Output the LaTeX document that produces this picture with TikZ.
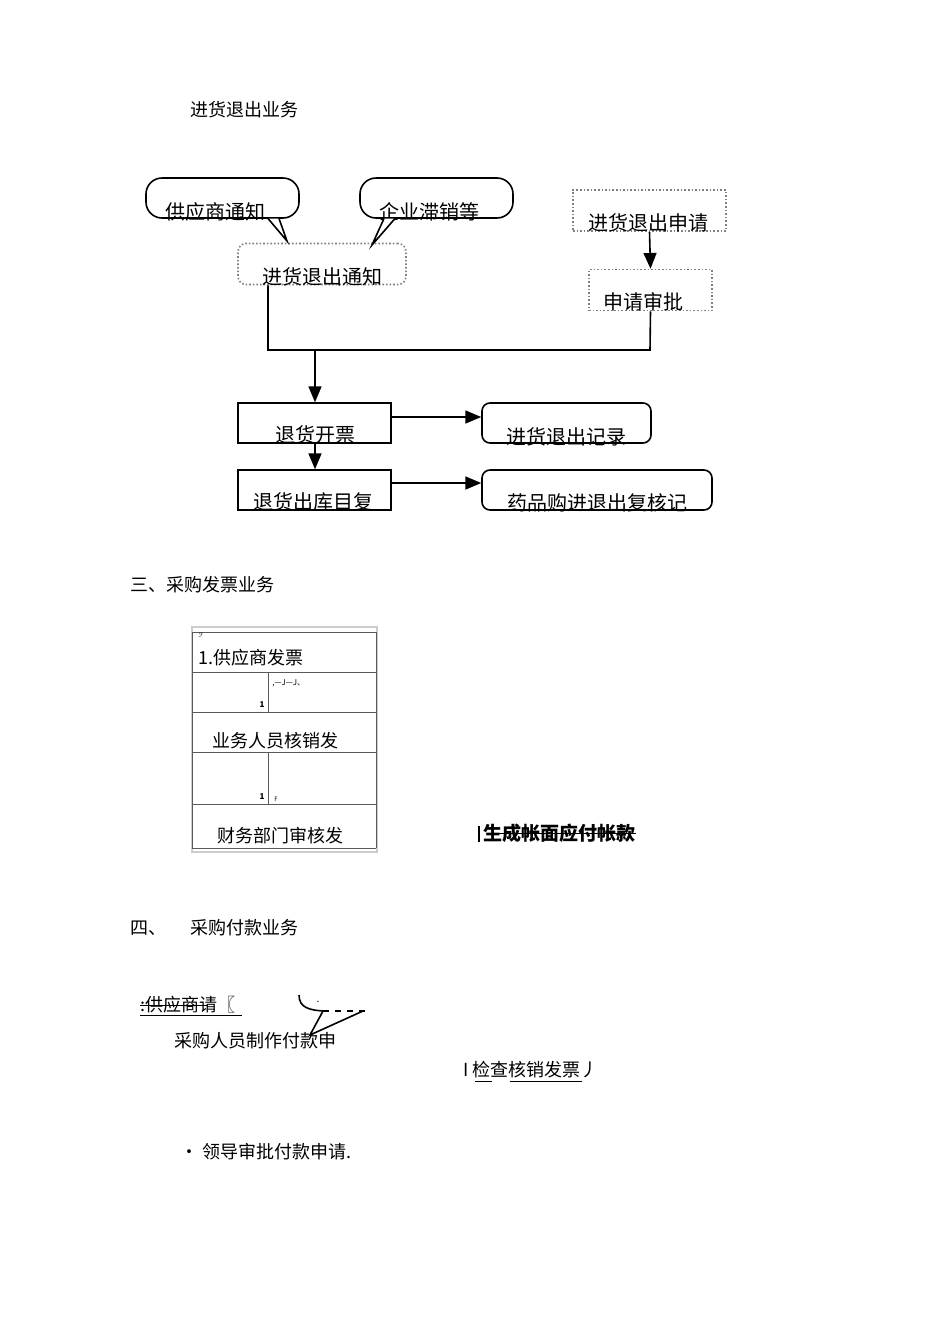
\documentclass[tikz,border=0pt]{standalone}
\usepackage{fontspec}
\setmainfont{Noto Sans CJK SC}
\newfontfamily\symfont{DejaVu Sans}
\usetikzlibrary{positioning,arrows}

\tikzset{
  box/.style={draw,thick,minimum width=76.5pt,minimum height=20pt,inner sep=0pt},
  roundbox/.style={box,rounded corners=4pt},
  dotbox/.style={draw=gray,densely dotted,thick,minimum height=20.5pt,inner sep=0pt},
  flowtext/.style={font=\fontsize{10}{11}\selectfont,inner sep=0pt},
  plaintext/.style={font=\fontsize{9}{10}\selectfont,inner sep=0pt,anchor=west},
  arr/.style={-triangle 45,thick}
}

\begin{document}
\begin{tikzpicture}[x=0.5pt,y=-0.5pt]
\useasboundingbox (0,0) rectangle (950,1344);

\node[plaintext] (t1) at (190,110) {进货退出业务};

% callouts
\node[roundbox,minimum width=76.5pt,rounded corners=8pt] (sup) at (222.5,198) {};
\node[flowtext] (supt) at (215,212) {供应商通知};
\node[roundbox,minimum width=76.5pt,rounded corners=8pt] (ent) at (436.5,198) {};
\node[flowtext] (entt) at (429,212) {企业滞销等};

\node[dotbox,minimum width=84pt,rounded corners=4pt] (note) at (322,264) {};
\node[flowtext] (notet) at (322,277) {进货退出通知};
\draw[thick,fill=white] (268,218.5) -- (287,241) -- (279,218.5);
\draw[thick,fill=white] (384,218.5) -- (372,245) -- (395,218.5);

\node[dotbox,minimum width=76.5pt] (req) at (649.5,210.5) {};
\node[flowtext] (reqt) at (648,223) {进货退出申请};
\node[dotbox,minimum width=61.5pt] (appr) at (650.5,290) {};
\node[flowtext] (apprt) at (643,302) {申请审批};
\draw[arr] (req.south) -- (appr.north);

\coordinate (j1) at (268,350);
\coordinate (j2) at (650,350);
\coordinate (j3) at (315,350);
\draw[thick] (note.south west -| j1) -- (j1) -- (j2) -- (appr.south);

\node[box] (bill) at (314.5,423) {};
\node[flowtext] (billt) at (315,435) {退货开票};
\node[roundbox,minimum width=84.5pt] (rec) at (566.5,423) {};
\node[flowtext] (rect) at (566,437) {进货退出记录};
\node[box] (out) at (314.5,490) {};
\node[flowtext] (outt) at (313,502) {退货出库目复};
\node[roundbox,minimum width=115pt] (chk) at (597,490) {};
\node[flowtext] (chkt) at (597,503) {药品购进退出复核记};

\draw[arr] (j3) -- (bill.north -| j3);
\draw[arr] (bill.south -| j3) -- (out.north -| j3);
\draw[arr] (bill.east |- 0,417) -- (rec.west |- 0,417);
\draw[arr] (out.east |- 0,483) -- (chk.west |- 0,483);

% invoice section
\node[plaintext] (t2) at (130,585) {三、采购发票业务};
\draw[gray!40,thick] (192,627) rectangle (377,852);
\foreach \y in {632,672,712,752,804,848}
  \draw[gray!70!black] (192,\y) -- (376,\y);
\draw[gray!70!black] (192,632) -- (192,848) (376,632) -- (376,848);
\draw[gray!70!black] (268,672) -- (268,712) (268,752) -- (268,804);
\node[font=\symfont\fontsize{3}{3}\selectfont,inner sep=0pt] (m0) at (201,635) {ℱ};
\node[plaintext,font=\fontsize{9}{10}\selectfont] (r1) at (198,658) {1.供应商发票};
\node[font=\bfseries\fontsize{4}{4}\selectfont,inner sep=0pt] (m1) at (262,705) {1};
\node[font=\fontsize{4}{4}\selectfont,inner sep=0pt,anchor=west] (m2) at (272,683) {,—J—J、};
\node[flowtext,font=\fontsize{9}{10}\selectfont] (r2) at (275,741) {业务人员核销发};
\node[font=\bfseries\fontsize{4}{4}\selectfont,inner sep=0pt] (m3) at (262,797) {1};
\node[font=\fontsize{3}{3}\selectfont,inner sep=0pt] (m4) at (276,799) {F};
\node[flowtext,font=\fontsize{9}{10}\selectfont] (r3) at (280,836) {财务部门审核发};
\node[plaintext,font=\bfseries\fontsize{9.5}{10}\selectfont] (gen) at (478,833) {\rule[-1pt]{1pt}{8pt}\,生成帐面应付帐款};
\draw (gen.west) ++(10,0) -- (gen.east);

% payment section
\node[plaintext] (t3a) at (130,928) {四、};
\node[plaintext] (t3b) at (190,928) {采购付款业务};
\node[plaintext] (p1) at (140,1005) {:供应商请〖};
\draw (p1.south west) ++(0,2) -- ++(102,0);
\draw (p1.west) ++(0,0) -- ++(68,0);
\draw[thick] (299,995) .. controls (299,1008) and (310,1010) .. (323,1011);
\draw[thick,dashed] (323,1011) -- (368,1011);
\node[inner sep=0pt,font=\tiny] (dot) at (318,1002) {.};
\draw[thick] (323,1011) -- (310,1035) -- (363,1011);
\node[plaintext] (p2) at (174,1041) {采购人员制作付款申};
\node[plaintext] (p3) at (463,1070) {I 检查核销发票丿};
\draw (475,1081) -- (492,1081) (510,1081) -- (582,1081);
\node[plaintext] (p4) at (180,1152) {· 领导审批付款申请.};
\end{tikzpicture}
\end{document}
